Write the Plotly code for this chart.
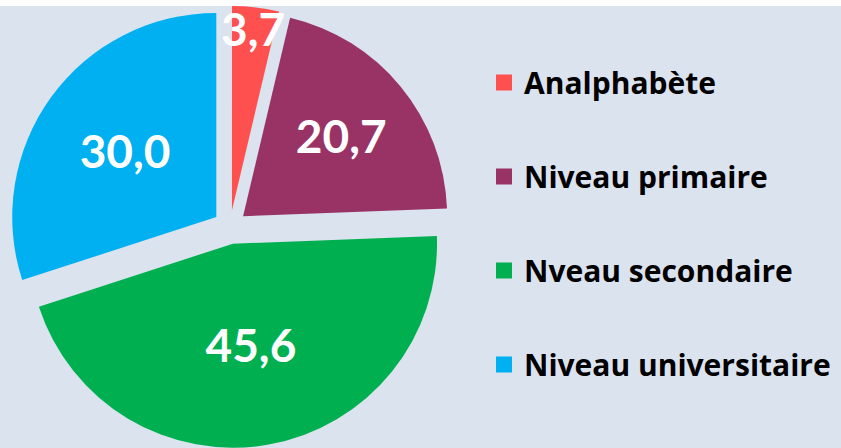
import plotly.graph_objects as go

categories = ["Analphabète", "Niveau primaire", "Nveau secondaire", "Niveau universitaire"]
values = [3.7, 20.7, 45.6, 30.0]
colors = ["#ff5050", "#993366", "#00b050", "#00b0f0"]

BG = "#dbe3ef"

fig = go.Figure()

fig.add_trace(go.Pie(
    labels=categories,
    values=values,
    sort=False,
    direction="clockwise",
    rotation=0,
    pull=[0.083] * len(values),
    marker=dict(colors=colors, line=dict(width=0)),
    texttemplate="%{value:.1f}",
    textposition="inside",
    insidetextorientation="horizontal",
    textfont=dict(family="Lato", size=46, color="white", weight="bold"),
    showlegend=False,
    hoverinfo="label+value",
    domain=dict(x=[8 / 841, 452 / 841], y=[0, 1]),
))

# legend entries
for i, (name, c) in enumerate(zip(categories, colors)):
    fig.add_trace(go.Scatter(
        x=[None], y=[None], mode="markers", name=name,
        marker=dict(symbol="square", size=19, color=c),
        legendgroup=f"g{i}", showlegend=True,
    ))

fig.update_layout(
    width=841, height=448,
    margin=dict(l=0, r=0, t=6, b=0),
    paper_bgcolor=BG,
    plot_bgcolor=BG,
    separators=", ",
    uniformtext=dict(minsize=46, mode="show"),
    xaxis=dict(visible=False),
    yaxis=dict(visible=False),
    legend=dict(
        x=484 / 841, xanchor="left", y=0.508, yanchor="middle",
        font=dict(family="Open Sans", size=30, color="black", weight="bold"),
        tracegroupgap=52, itemsizing="trace", bgcolor="rgba(0,0,0,0)",
    ),
    shapes=[dict(type="rect", xref="paper", yref="paper", x0=-0.01, x1=1.01,
                 y0=1, y1=1.05, fillcolor="white", line=dict(width=0), layer="above")],
)

fig.write_html("out.html", config={"displayModeBar": False},
               post_script="document.body.style.margin='0px';")
